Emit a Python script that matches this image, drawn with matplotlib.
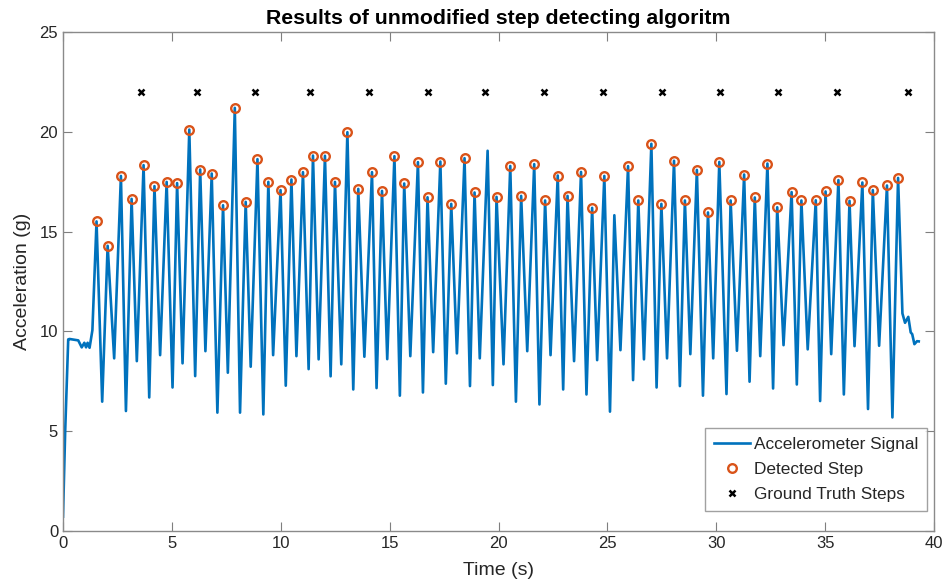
import numpy as np
import matplotlib
matplotlib.use("Agg")
import matplotlib.pyplot as plt

plt.rcParams['font.family'] = ['Liberation Sans', 'DejaVu Sans']

# ---- data ----
# start of the recording (sensor settling)
lead_t = [0.00, 0.10, 0.24, 0.30, 0.70, 0.86, 0.98, 1.06, 1.13, 1.22, 1.35]
lead_y = [0.72, 5.00, 9.60, 9.62, 9.55, 9.20, 9.43, 9.20, 9.43, 9.18, 10.06]

# detected steps (peaks marked by circles)
step_t = [1.54, 2.05, 2.66, 3.15, 3.70, 4.20, 4.76, 5.24, 5.80, 6.30,
          6.83, 7.35, 7.89, 8.39, 8.93, 9.43, 9.99, 10.49, 11.02, 11.48,
          12.03, 12.49, 13.06, 13.56, 14.19, 14.65, 15.22, 15.67, 16.30, 16.74,
          17.33, 17.83, 18.44, 18.90, 19.91, 20.54, 21.04, 21.64, 22.14, 22.72,
          23.17, 23.79, 24.30, 24.86, 25.95, 26.42, 27.02, 27.48, 28.06, 28.56,
          29.11, 29.62, 30.14, 30.66, 31.28, 31.77, 32.35, 32.80, 33.46, 33.91,
          34.57, 35.02, 35.61, 36.12, 36.71, 37.19, 37.84, 38.35]
step_y = [15.51, 14.29, 17.79, 16.64, 18.33, 17.28, 17.49, 17.43, 20.11, 18.11,
          17.91, 16.32, 21.20, 16.49, 18.63, 17.49, 17.08, 17.61, 17.98, 18.81,
          18.80, 17.49, 19.98, 17.14, 17.98, 17.04, 18.78, 17.41, 18.48, 16.72,
          18.51, 16.39, 18.68, 16.96, 16.74, 18.29, 16.79, 18.38, 16.56, 17.81,
          16.79, 17.99, 16.19, 17.79, 18.28, 16.56, 19.40, 16.39, 18.55, 16.56,
          18.09, 15.96, 18.49, 16.56, 17.86, 16.71, 18.41, 16.22, 16.98, 16.56,
          16.57, 17.01, 17.58, 16.54, 17.46, 17.08, 17.31, 17.69]

# peaks the algorithm missed
missed_t = [19.50, 25.32]
missed_y = [19.05, 15.82]

# troughs between peaks
trough_t = [1.80, 2.35, 2.89, 3.39, 3.96, 4.46, 5.03, 5.49, 6.07, 6.54,
            7.09, 7.57, 8.13, 8.62, 9.20, 9.65, 10.23, 10.72, 11.28, 11.74,
            12.29, 12.78, 13.33, 13.84, 14.40, 14.89, 15.47, 15.95, 16.53, 17.00,
            17.58, 18.09, 18.69, 19.14, 19.74, 20.23, 20.80, 21.32, 21.88, 22.39,
            22.97, 23.47, 24.04, 24.53, 25.12, 25.60, 26.18, 26.68, 27.26, 27.74,
            28.33, 28.81, 29.39, 29.86, 30.47, 30.95, 31.53, 32.02, 32.61, 33.09,
            33.70, 34.20, 34.77, 35.28, 35.86, 36.35, 36.97, 37.48, 38.09]
trough_y = [6.48, 8.65, 6.01, 8.51, 6.69, 8.81, 7.19, 8.40, 7.76, 9.01,
            5.93, 7.93, 5.93, 8.23, 5.84, 8.81, 7.28, 8.76, 8.11, 8.60,
            7.75, 8.35, 7.09, 8.73, 7.16, 8.61, 6.78, 8.76, 6.94, 8.96,
            7.38, 8.90, 7.26, 8.65, 7.31, 8.35, 6.48, 9.01, 6.34, 8.81,
            7.09, 8.51, 6.84, 8.56, 5.98, 9.06, 7.56, 8.60, 7.19, 8.65,
            7.26, 8.86, 6.78, 8.65, 6.86, 9.03, 7.48, 8.76, 7.14, 9.31,
            7.34, 9.10, 6.51, 8.86, 6.84, 9.26, 6.11, 9.28, 5.69]

# end of the recording
tail_t = [38.55, 38.67, 38.82, 38.93, 39.00, 39.10, 39.22, 39.30]
tail_y = [10.90, 10.43, 10.73, 9.95, 9.86, 9.36, 9.51, 9.50]

# ground truth steps
truth_t = [3.59, 6.16, 8.83, 11.36, 14.07, 16.78, 19.40, 22.07, 24.78,
           27.49, 30.16, 32.83, 35.54, 38.80]
truth_y = [22] * len(truth_t)

xticks = [0, 5, 10, 15, 20, 25, 30, 35, 40]
yticks = [0, 5, 10, 15, 20, 25]

# ---- assemble the signal vertices in time order ----
sig_t = np.concatenate([lead_t, step_t, missed_t, trough_t, tail_t])
sig_y = np.concatenate([lead_y, step_y, missed_y, trough_y, tail_y])
order = np.argsort(sig_t)
sig_t, sig_y = sig_t[order], sig_y[order]

fig = plt.figure(figsize=(9.48, 5.81), dpi=100)
ax = fig.add_axes([63 / 948, 1 - 531 / 581, 871 / 948, 499 / 581])

ax.plot(sig_t, sig_y, color='#0072BD', lw=1.9, solid_joinstyle='round',
        label='Accelerometer Signal', zorder=2)
ax.plot(step_t, step_y, linestyle='none', marker='o', markersize=6.2,
        markerfacecolor='none', markeredgecolor='#D95319', markeredgewidth=1.7,
        label='Detected Step', zorder=3)
ax.plot(truth_t, truth_y, linestyle='none', marker='x', markersize=4.5,
        color='black', markeredgewidth=1.8, label='Ground Truth Steps', zorder=3)

ax.set_xlim(0, 40)
ax.set_ylim(0, 25)
ax.set_xticks(xticks)
ax.set_yticks(yticks)
ax.tick_params(direction='in', length=6.5, width=0.8, colors='#7f7f7f',
               labelcolor='#262626', labelsize=12, top=True, right=True)
for s in ax.spines.values():
    s.set_color('#8a8a8a')
    s.set_linewidth(1.0)

ax.set_xlabel('Time (s)', fontsize=14, color='#262626', labelpad=8)
ax.set_ylabel('Acceleration (g)', fontsize=14, color='#262626', labelpad=6)
ax.set_title('Results of unmodified step detecting algoritm', fontsize=15.3,
             fontweight='bold', color='black', pad=6)

leg = ax.legend(loc='lower right', bbox_to_anchor=(0.992, 0.040), borderaxespad=0,
                fontsize=12.4, frameon=True, fancybox=False, edgecolor='#8a8a8a',
                handlelength=2.1, handletextpad=0.25, labelspacing=0.6,
                borderpad=0.5)
leg.get_frame().set_linewidth(1.0)
for t in leg.get_texts():
    t.set_color('#262626')

fig.savefig('out.png', dpi=100)
